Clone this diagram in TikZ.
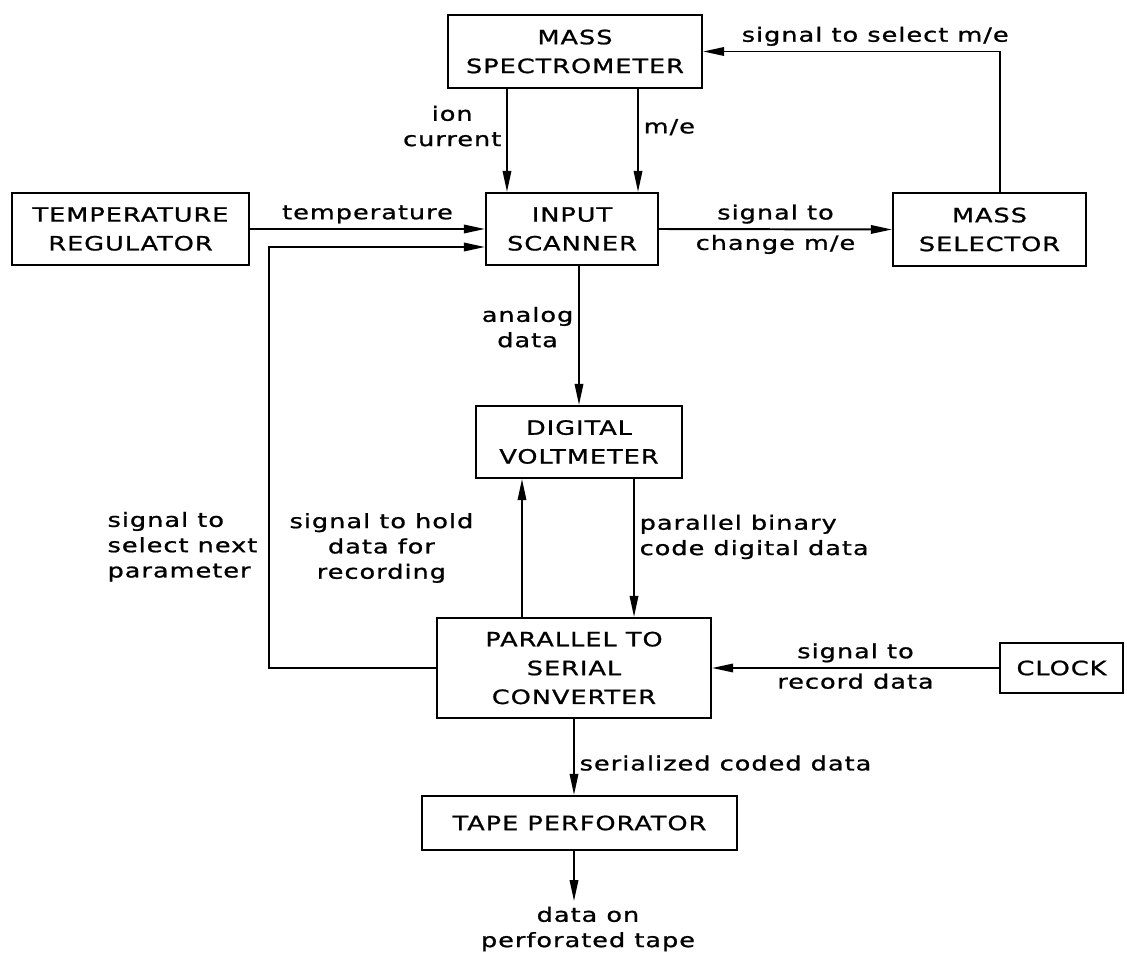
\documentclass[tikz,border=0pt]{standalone}
\usepackage{fontspec}
\setmainfont{DejaVu Sans}[FakeStretch=1.3, LetterSpace=5, FakeBold=1]
\usetikzlibrary{arrows.meta}

\tikzset{
  block/.style={draw, rectangle, line width=1.4pt, align=center, inner sep=0pt, font=\fontsize{14}{20.5}\selectfont},
  note/.style={align=center, font=\fontsize{14}{18}\selectfont},
}

\begin{document}
\begin{tikzpicture}[x=0.025cm, y=-0.025cm, line width=1.4pt, >={Triangle[length=15pt, width=6pt]}]
  \useasboundingbox (0,0) rectangle (1127,957);
  \node[block, minimum width=6.35cm, minimum height=1.825cm] (massSpec) at (575, 51.5) {MASS\\SPECTROMETER};
  \node[block, minimum width=4.3cm, minimum height=1.8cm] (inputScanner) at (572, 229) {INPUT\\SCANNER};
  \node[block, minimum width=5.925cm, minimum height=1.8cm] (tempReg) at (130.5, 229) {TEMPERATURE\\REGULATOR};
  \node[block, minimum width=4.825cm, minimum height=1.825cm] (massSelector) at (989.5, 229.5) {MASS\\SELECTOR};
  \node[block, minimum width=5.15cm, minimum height=1.8cm] (digitalVolt) at (579, 442) {DIGITAL\\VOLTMETER};
  \node[block, minimum width=6.85cm, minimum height=2.5cm] (converter) at (574, 668) {PARALLEL TO\\SERIAL\\CONVERTER};
  \node[block, minimum width=3.075cm, minimum height=1.25cm] (clock) at (1061.5, 668) {CLOCK};
  \node[block, minimum width=7.875cm, minimum height=1.35cm] (tapePerf) at (579.5, 823) {TAPE PERFORATOR};
  \node[note] (tapeOut) at (588, 929) {data on\\perforated tape};
  \draw[->] ([xshift=-1.7cm]massSpec.south) -- ([xshift=-1.7cm]massSpec.south |- inputScanner.north) node[note, pos=0.36, left] {ion\\current};
  \draw[->] ([xshift=1.575cm]massSpec.south) -- ([xshift=1.575cm]massSpec.south |- inputScanner.north) node[note, pos=0.37, right] {m/e};
  \draw[->] ([xshift=0.26cm]massSelector.north) |- (massSpec.east) node[note, pos=0.71, above] {signal to select m/e};
  \draw[->] (tempReg.east) -- (inputScanner.west) node[note, midway, above] {temperature};
  \draw[->] (converter.west) -- ++(-167,0) |- ([yshift=-0.45cm]inputScanner.west) node[note, pos=0.144, left, xshift=-0.15cm, align=left] {signal to\\select next\\parameter};
  \draw[->] (inputScanner.east) -- (massSelector.west) node[note, midway, above] {signal to} node[note, midway, below] {change m/e};
  \draw[->] (inputScanner.south -| digitalVolt.north) -- (digitalVolt.north) node[note, pos=0.44, left] {analog\\data};
  \draw[->] ([xshift=-1.3cm]converter.north) -- ([xshift=-1.3cm]converter.north |- digitalVolt.south) node[note, midway, left, xshift=-1.075cm] {signal to hold\\data for\\recording};
  \draw[->] ([xshift=1.5cm]converter.north |- digitalVolt.south) -- ([xshift=1.5cm]converter.north) node[note, pos=0.42, right, align=left] {parallel binary\\code digital data};
  \draw[->] (clock.west) -- (converter.east) node[note, midway, above] {signal to} node[note, midway, below] {record data};
  \draw[->] (converter.south) -- (converter.south |- tapePerf.north) node[note, pos=0.58, right] {serialized coded data};
  \draw[->] (converter.south |- tapePerf.south) -- (converter.south |- tapeOut.north);
\end{tikzpicture}
\end{document}
